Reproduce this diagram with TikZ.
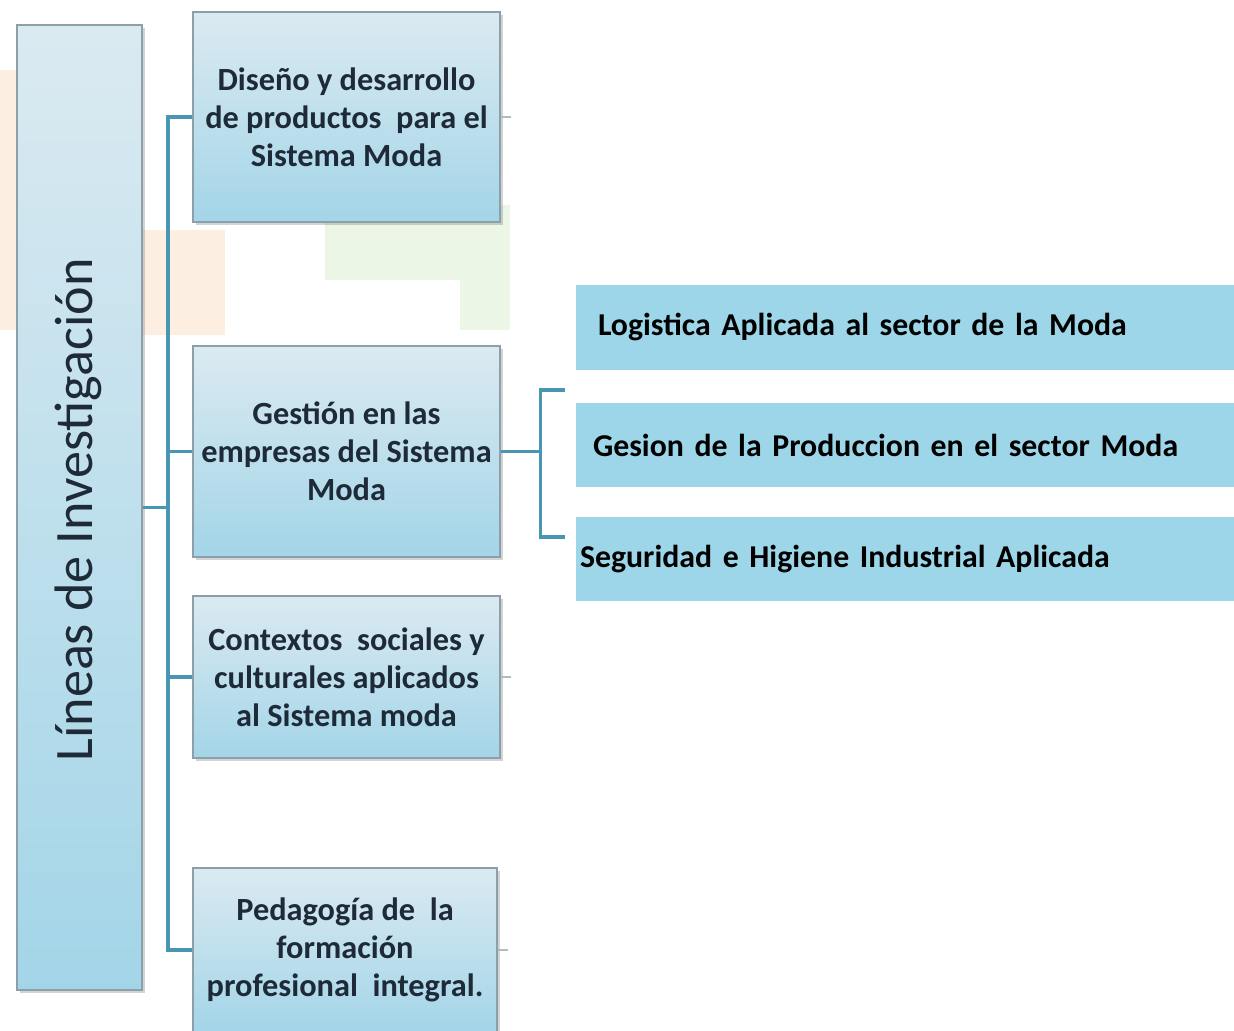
\documentclass[tikz,border=0pt]{standalone}
\usepackage{fontspec}
\setmainfont{Carlito}
\usetikzlibrary{shadows}

\definecolor{boxtop}{RGB}{219,234,241}
\definecolor{boxbot}{RGB}{163,213,232}
\definecolor{boxline}{RGB}{140,160,170}
\definecolor{conncol}{RGB}{72,150,178}
\definecolor{subfill}{RGB}{157,214,232}
\definecolor{txtcol}{RGB}{30,42,56}
\definecolor{wmorange}{RGB}{253,238,226}
\definecolor{wmgreen}{RGB}{236,246,231}

\begin{document}
\begin{tikzpicture}[
  linebox/.style={draw=boxline, line width=0.6pt, top color=boxtop, bottom color=boxbot,
    drop shadow={opacity=0.35, shadow xshift=0.6mm, shadow yshift=-0.6mm},
    minimum width=6.14cm, align=center, text=txtcol, font=\bfseries\fontsize{18.4}{21.5}\selectfont},
  subbox/.style={fill=subfill, draw=none, minimum width=13.16cm, minimum height=1.69cm,
    inner xsep=0pt, text width=#1, align=left, font=\bfseries\fontsize{18.1}{22}\selectfont},
  conn/.style={draw=conncol, line width=1.8pt},
  stub/.style={draw=boxline!70, line width=0.8pt}
]
  \useasboundingbox (0cm,0cm) rectangle (24.68cm,-20.62cm);
  \fill[wmorange] (0cm,-1.4cm) rectangle (0.34cm,-6.6cm);
  \fill[wmorange] (2.86cm,-4.6cm) rectangle (4.5cm,-6.7cm);
  \fill[wmgreen] (6.5cm,-4.1cm) rectangle (10.2cm,-5.6cm);
  \fill[wmgreen] (9.2cm,-5.6cm) rectangle (10.2cm,-6.6cm);

  \node[draw=boxline, line width=0.6pt, top color=boxtop, bottom color=boxbot,
    drop shadow={opacity=0.35, shadow xshift=0.6mm, shadow yshift=-0.6mm},
    minimum width=2.5cm, minimum height=19.3cm] (lineas) at (1.59cm,-10.15cm) {};
  \node[rotate=90, font=\fontsize{30.8}{36}\selectfont, text=txtcol] (lineastxt) at ([xshift=-0.02cm,yshift=-0.05cm]lineas.center) {Líneas de Investigación};

  \node[linebox, minimum height=4.2cm] (diseno) at (6.93cm,-2.34cm) {Diseño y desarrollo\\de productos\ \ para el\\Sistema Moda};
  \node[linebox, minimum height=4.22cm] (gestion) at (6.93cm,-9.03cm) {Gestión en las\\empresas del Sistema\\Moda};
  \node[linebox, minimum height=3.24cm] (contextos) at (6.93cm,-13.54cm) {Contextos\ \ sociales y\\culturales aplicados\\al Sistema moda};
  \node[linebox, minimum height=3.28cm, minimum width=6.08cm] (pedagogia) at (6.9cm,-19.0cm) {Pedagogía de\ \ la\\formación\\profesional\ \ integral.};

  \node[subbox=12.28cm] (logistica) at (18.1cm,-6.55cm) {Logistica Aplicada al sector de la Moda};
  \node[subbox=12.48cm] (produccion) at (18.1cm,-8.9cm) {Gesion de la Produccion en el sector Moda};
  \node[subbox=13.0cm] (seguridad) at (18.1cm,-11.18cm) {Seguridad e Higiene Industrial Aplicada};

  \coordinate (trunktop) at (3.36cm,-2.34cm);
  \coordinate (trunkbot) at (3.36cm,-19.0cm);
  \draw[conn] (diseno.west) -- (trunktop) -- (trunkbot) -- (pedagogia.west);
  \draw[conn] (gestion.west) -- (gestion.west -| trunktop);
  \draw[conn] (contextos.west) -- (contextos.west -| trunktop);
  \draw[conn] (lineas.east) -- (lineas.east -| trunktop);

  \coordinate (bracket) at ([xshift=0.8cm]gestion.east);
  \coordinate (brtop) at (11.3cm,-7.8cm);
  \coordinate (brbot) at (11.3cm,-10.74cm);
  \draw[conn] (gestion.east) -- (bracket);
  \draw[conn] (brtop) -| (bracket) |- (brbot);

  \draw[stub] (diseno.east) -- ++(0.2cm,0);
  \draw[stub] (contextos.east) -- ++(0.2cm,0);
  \draw[stub] (pedagogia.east) -- ++(0.2cm,0);
\end{tikzpicture}
\end{document}
